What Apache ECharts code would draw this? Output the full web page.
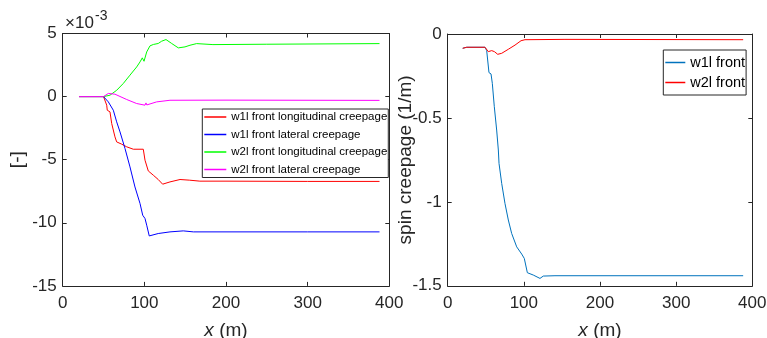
<!DOCTYPE html>
<html>
<head>
<meta charset="utf-8">
<script src="https://cdn.jsdelivr.net/npm/echarts@6/dist/echarts.min.js"></script>
<style>
  html, body { margin: 0; padding: 0; background: #fff; }
  #main { width: 767px; height: 338px; }
</style>
</head>
<body>
<div id="main"></div>
<script>
// left plot, values in units of 1e-3
const w1lLongX = [20, 50, 53.9, 54.6, 57.9, 60, 64, 66.1, 72.3, 78.4, 86.5, 98.7, 100.8, 104.8, 111, 117, 122.4, 131.4, 143.7, 155, 168, 200, 300, 388];
const w1lLongY = [0, 0, -0.68, -1.08, -1.21, -2.13, -3.19, -3.59, -3.77, -3.98, -4.17, -4.17, -5.04, -5.89, -6.23, -6.57, -6.94, -6.76, -6.57, -6.62, -6.7, -6.7, -6.72, -6.72];

const w1lLatX = [20, 50, 55.9, 62, 66.1, 70.2, 76.3, 82.4, 88.5, 94.7, 98, 100.8, 102.9, 106, 117, 131.4, 147.7, 160, 200, 300, 388];
const w1lLatY = [0, 0, -0.42, -1.08, -2.0, -2.8, -4.11, -5.57, -7.16, -8.47, -9.4, -9.66, -10.19, -11.04, -10.85, -10.72, -10.64, -10.72, -10.72, -10.72, -10.72];

const w2lLongX = [20, 50, 51.8, 57.9, 66.1, 74.2, 82.4, 90.6, 94.7, 97.5, 99.6, 102.9, 106.9, 111, 117, 121.2, 126.5, 133.5, 141.6, 149.8, 155.9, 164, 184, 250, 388];
const w2lLongY = [0, 0, -0.02, 0.11, 0.5, 1.04, 1.7, 2.35, 2.75, 3.07, 2.8, 3.54, 4.02, 4.13, 4.21, 4.39, 4.52, 4.21, 3.86, 3.94, 4.07, 4.2, 4.12, 4.15, 4.2];

const w2lLatX = [20, 50, 55.9, 64, 78.4, 90.6, 100.8, 102, 103, 115, 131.4, 200, 388];
const w2lLatY = [0, 0, 0.25, 0.19, -0.23, -0.55, -0.68, -0.5, -0.66, -0.42, -0.29, -0.28, -0.3];

// right plot, spin creepage (1/m)
const w1lFrontX = [19.7, 25, 49, 51.2, 54.2, 56.9, 58.6, 61.2, 64.3, 66.5, 67.4, 70.9, 75.2, 79.6, 84, 90.6, 97.2, 100.6, 104.6, 112.4, 121.2, 125.5, 140.9, 200, 388];
const w1lFrontY = [-0.085, -0.079, -0.079, -0.099, -0.23, -0.238, -0.294, -0.433, -0.572, -0.691, -0.771, -0.89, -1.009, -1.108, -1.188, -1.268, -1.311, -1.337, -1.422, -1.436, -1.456, -1.442, -1.44, -1.44, -1.44];

const w2lFrontX = [19.7, 25, 49, 53.3, 57.8, 61.3, 65.7, 70.9, 79.6, 88.4, 96.3, 101.5, 154, 388];
const w2lFrontY = [-0.085, -0.079, -0.079, -0.105, -0.099, -0.105, -0.121, -0.115, -0.091, -0.066, -0.04, -0.034, -0.032, -0.034];

const xTicks = [0, 100, 200, 300, 400];
const leftYTicks = [-15, -10, -5, 0, 5];
const rightYTicks = [-1.5, -1, -0.5, 0];

const FONT = 'Liberation Sans, Arial, sans-serif';
const INK = '#262626';

function zip(xs, ys) {
  return xs.map((x, i) => [x, ys[i]]);
}

function xAxis(gridIndex, position, name) {
  return {
    type: 'value', gridIndex: gridIndex, position: position,
    min: xTicks[0], max: xTicks[xTicks.length - 1], interval: 100,
    axisLine: { show: true, onZero: false, lineStyle: { color: INK, width: 1 } },
    axisTick: { show: true, inside: true, length: 4, lineStyle: { color: INK } },
    axisLabel: { show: position === 'bottom', fontSize: 17, margin: 9, color: INK, fontFamily: FONT },
    splitLine: { show: false },
    name: name || '', nameLocation: 'middle', nameGap: 35, nameMoveOverlap: false,
    nameTextStyle: {
      fontSize: 19, color: INK, fontFamily: FONT,
      rich: { i: { fontStyle: 'italic', fontSize: 19, color: INK, fontFamily: FONT } }
    }
  };
}

function yAxis(gridIndex, position, ticks, name, gap) {
  return {
    type: 'value', gridIndex: gridIndex, position: position,
    min: ticks[0], max: ticks[ticks.length - 1], interval: ticks[1] - ticks[0],
    axisLine: { show: true, onZero: false, lineStyle: { color: INK, width: 1 } },
    axisTick: { show: true, inside: true, length: 4, lineStyle: { color: INK } },
    axisLabel: { show: position === 'left', fontSize: 17, margin: 6, color: INK, fontFamily: FONT },
    splitLine: { show: false },
    name: name || '', nameLocation: 'middle', nameGap: gap || 30, nameMoveOverlap: false,
    nameTextStyle: { fontSize: 19, color: INK, fontFamily: FONT }
  };
}

function line(name, xIdx, yIdx, xs, ys, color) {
  return {
    name: name, type: 'line', xAxisIndex: xIdx, yAxisIndex: yIdx,
    data: zip(xs, ys), showSymbol: false, symbol: 'none',
    lineStyle: { color: color, width: 1 }, itemStyle: { color: color },
    emphasis: { disabled: true }
  };
}

const chart = echarts.init(document.getElementById('main'));
chart.setOption({
  animation: false,
  backgroundColor: '#fff',
  textStyle: { fontFamily: FONT },
  grid: [
    { left: 62.7, top: 33.5, width: 326.6, height: 252.4, containLabel: false, outerBoundsMode: 'none' },
    { left: 447.7, top: 34, width: 304.6, height: 251.8, containLabel: false, outerBoundsMode: 'none' }
  ],
  xAxis: [
    xAxis(0, 'bottom', '{i|x} (m)'),
    xAxis(0, 'top'),
    xAxis(1, 'bottom', '{i|x} (m)'),
    xAxis(1, 'top')
  ],
  yAxis: [
    yAxis(0, 'left', leftYTicks, '[-]', 35),
    yAxis(0, 'right', leftYTicks),
    yAxis(1, 'left', rightYTicks, 'spin creepage (1/m)', 32),
    yAxis(1, 'right', rightYTicks)
  ],
  legend: [
    {
      data: ['w1l front longitudinal creepage', 'w1l front lateral creepage', 'w2l front longitudinal creepage', 'w2l front lateral creepage'],
      orient: 'vertical', left: 202.3, top: 109,
      icon: 'rect', itemWidth: 22, itemHeight: 1.5, itemGap: 3.5,
      padding: [1, 1, 1, 2],
      borderColor: INK, borderWidth: 1, backgroundColor: '#fff',
      textStyle: { fontSize: 11.5, lineHeight: 14, color: '#000', fontFamily: FONT },
      selectedMode: false
    },
    {
      data: ['w1l front', 'w2l front'],
      orient: 'vertical', left: 663.3, top: 50,
      icon: 'rect', itemWidth: 20, itemHeight: 1.5, itemGap: 3,
      padding: [4, 1, 4, 2],
      borderColor: INK, borderWidth: 1, backgroundColor: '#fff',
      textStyle: { fontSize: 14.5, lineHeight: 17, color: '#000', fontFamily: FONT },
      selectedMode: false
    }
  ],
  graphic: [
    { type: 'text', left: 65, top: 15, style: { text: '×10', fontSize: 17, fill: INK, fontFamily: FONT } },
    { type: 'text', left: 95, top: 9, style: { text: '-3', fontSize: 14, fill: INK, fontFamily: FONT } }
  ],
  series: [
    line('w1l front longitudinal creepage', 0, 0, w1lLongX, w1lLongY, '#ff0000'),
    line('w1l front lateral creepage', 0, 0, w1lLatX, w1lLatY, '#0000ff'),
    line('w2l front longitudinal creepage', 0, 0, w2lLongX, w2lLongY, '#00ff00'),
    line('w2l front lateral creepage', 0, 0, w2lLatX, w2lLatY, '#ff00ff'),
    line('w1l front', 2, 2, w1lFrontX, w1lFrontY, '#0072bd'),
    line('w2l front', 2, 2, w2lFrontX, w2lFrontY, '#ff0000')
  ]
});
</script>
</body>
</html>
